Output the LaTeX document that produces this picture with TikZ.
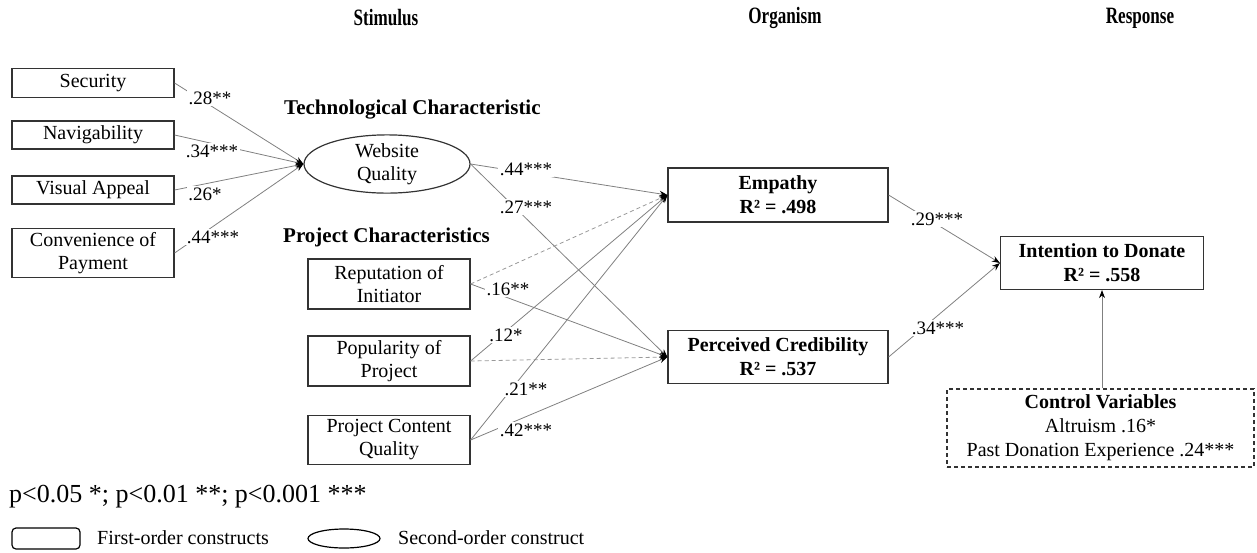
\documentclass[tikz,border=0pt]{standalone}
\usepackage{fontspec}
\setmainfont{Liberation Serif}
\usetikzlibrary{arrows.meta,shapes.geometric}
\begin{document}
\begin{tikzpicture}[x=1pt,y=-1pt,
  hdr/.style={font=\fontsize{18}{20}\selectfont\bfseries, inner sep=0pt},
  grp/.style={font=\fontsize{21}{24}\selectfont\bfseries, inner sep=0pt, anchor=west},
  box/.style={draw=black!80, line width=1.2pt, rectangle, inner sep=0pt, align=center,
    font=\fontsize{20}{23}\selectfont},
  bbox/.style={box, font=\fontsize{20}{24}\selectfont\bfseries},
  conn/.style={draw=black!50, line width=0.8pt, -{Stealth[length=8pt,width=6pt,color=black]}},
  dconn/.style={conn, draw=black!40, dash pattern=on 4pt off 3pt},
  lab/.style={fill=white, inner sep=1.5pt, font=\fontsize{19}{21}\selectfont}
]
\useasboundingbox (0,0) rectangle (1257,552);

% headers
\node[hdr] (stim) at (386,18) {\scalebox{0.95}[1.3]{Stimulus}};
\node[hdr] (org) at (785,18) {\scalebox{0.95}[1.3]{Organism}};
\node[hdr] (resp) at (1140,18) {\scalebox{0.95}[1.3]{Response}};

\node[grp] (tech) at (284,110) {Technological Characteristic};
\node[grp] (projc) at (283,237) {Project Characteristics};

% left first-order constructs
\node[box, minimum width=162pt, minimum height=29pt] (sec) at (93,83) {Security};
\node[box, minimum width=162pt, minimum height=28pt] (nav) at (93,135) {Navigability};
\node[box, minimum width=162pt, minimum height=28pt] (vis) at (93,190) {Visual Appeal};
\node[box, minimum width=162pt, minimum height=49pt] (conv) at (93,253) {Convenience of\\Payment};

% second-order construct
\node[draw=black!80, line width=1.2pt, ellipse, inner sep=0pt, minimum width=166pt, minimum height=53pt,
  align=center, font=\fontsize{20}{23}\selectfont] (wq) at (387,164) {Website\\Quality};

% project characteristics
\node[box, minimum width=162pt, minimum height=50pt] (rep) at (389,284) {Reputation of\\Initiator};
\node[box, minimum width=162pt, minimum height=50pt] (pop) at (389,361) {Popularity of\\Project};
\node[box, minimum width=162pt, minimum height=49pt] (pcq) at (389,440) {Project Content\\Quality};

% organism
\node[bbox, minimum width=220pt, minimum height=54pt] (emp) at (778,195) {Empathy\\R² = .498};
\node[bbox, minimum width=220pt, minimum height=53pt] (pc) at (778,357) {Perceived Credibility\\R² = .537};

% response
\node[bbox, minimum width=203pt, minimum height=53pt] (int) at (1102,263) {Intention to Donate\\R² = .558};

% control variables
\node[draw=black!80, line width=1.2pt, dash pattern=on 4pt off 3pt, inner sep=0pt,
  minimum width=307pt, minimum height=78pt, align=center, font=\fontsize{20}{24}\selectfont]
  (ctrl) at (1100.5,428) {\textbf{Control Variables}\\Altruism .16*\\Past Donation Experience .24***};

% connectors
\draw[conn] (sec.east) -- (wq.west);
\draw[conn] (nav.east) -- (wq.west);
\draw[conn] (vis.east) -- (wq.west);
\draw[conn] (conv.east) -- (wq.west);

\draw[conn] (wq.east) -- (emp.west);
\draw[conn] (wq.east) -- (pc.west);
\draw[dconn] (rep.east) -- (emp.west);
\draw[conn] (rep.east) -- (pc.west);
\draw[conn] (pop.east) -- (emp.west);
\draw[dconn] (pop.east) -- (pc.west);
\draw[conn] (pcq.east) -- (emp.west);
\draw[conn] (pcq.east) -- (pc.west);

\draw[conn] (emp.east) -- (int.west);
\draw[conn] (pc.east) -- (int.west);
\draw[conn] (ctrl.north -| int.south) -- (int.south);

% path labels
\node[lab] (l1) at (210,98) {.28**};
\node[lab] (l2) at (212,151) {.34***};
\node[lab] (l3) at (205,194) {.26*};
\node[lab] (l4) at (213,237) {.44***};
\node[lab] (l5) at (526,169) {.44***};
\node[lab] (l6) at (526,207) {.27***};
\node[lab] (l7) at (508,289) {.16**};
\node[lab] (l8) at (506,335) {.12*};
\node[lab] (l9) at (526,389) {.21**};
\node[lab] (l10) at (526,430) {.42***};
\node[lab] (l11) at (937,219) {.29***};
\node[lab] (l12) at (938,328) {.34***};

% legend
\node[anchor=west, inner sep=0pt, font=\fontsize{26}{28}\selectfont] (plegend) at (9,497) {p<0.05 *; p<0.01 **; p<0.001 ***};
\node[draw=black, line width=1.2pt, rounded corners=4pt, minimum width=68pt, minimum height=21pt, inner sep=0pt] (leg1) at (46,538.5) {};
\node[anchor=west, inner sep=0pt, font=\fontsize{20}{22}\selectfont] (leg1t) at (97,538) {First-order constructs};
\node[draw=black, line width=1.2pt, ellipse, minimum width=72pt, minimum height=19pt, inner sep=0pt] (leg2) at (344,538.5) {};
\node[anchor=west, inner sep=0pt, font=\fontsize{20}{22}\selectfont] (leg2t) at (398,538) {Second-order construct};
\end{tikzpicture}
\end{document}
